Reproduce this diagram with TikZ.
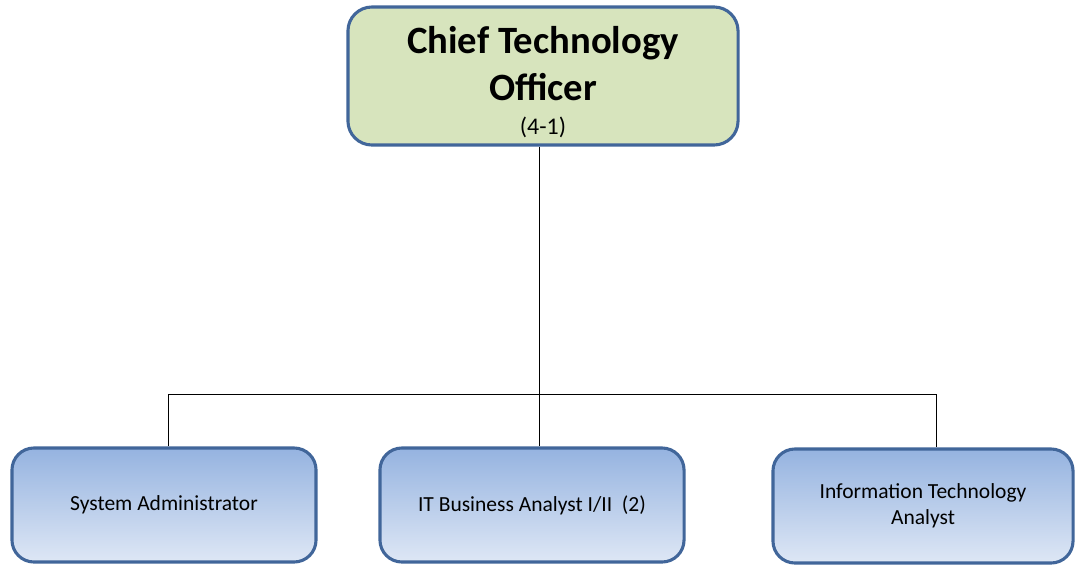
\documentclass[tikz,border=0pt]{standalone}
\usepackage{fontspec}
\setmainfont{Carlito}
\usepackage{tikz}
\usetikzlibrary{positioning,calc}
\definecolor{headFill}{HTML}{D7E4BD}
\definecolor{boxLine}{HTML}{41669A}
\definecolor{staffTop}{HTML}{95B3E0}
\definecolor{staffBot}{HTML}{DEE7F5}

\begin{document}
\begin{tikzpicture}[x=0.025cm,y=-0.025cm,
 head/.style={draw=boxLine,line width=2.2pt,rounded corners=0.6cm,fill=headFill,
  minimum width=9.75cm,minimum height=3.45cm,align=center,font=\fontsize{27.5}{33}\selectfont\bfseries},
 staff/.style={draw=boxLine,line width=2.2pt,rounded corners=0.55cm,top color=staffTop,bottom color=staffBot,
  minimum width=7.6cm,minimum height=2.85cm,align=center,font=\fontsize{15.3}{18.4}\selectfont},
 link/.style={draw=black,line width=0.6pt}]
\useasboundingbox (0,0) rectangle (1078,566);
% the strut pushes the title block a little down in its box
\node[head] (cto) at (543,76) {\rule{0pt}{28pt}Chief Technology\\Officer\\[-9pt]
 \fontsize{17}{33}\selectfont\mdseries (4-1)};
\node[staff] (sa) at (164,505) {System Administrator};
\node[staff] (ba) at (532,505) {IT Business Analyst I/II\ \ (2)};
\node[staff,minimum width=7.5cm] (ita) at (923,506) {Information Technology\\Analyst};
\coordinate (busL) at (168,394);
\coordinate (busR) at (936,394);
\draw[link] (cto.south -| 539,0) -- (ba.north -| 539,0);
\draw[link] (busL |- sa.north) -- (busL) -- (busR) -- (busR |- ita.north);
\end{tikzpicture}
\end{document}
